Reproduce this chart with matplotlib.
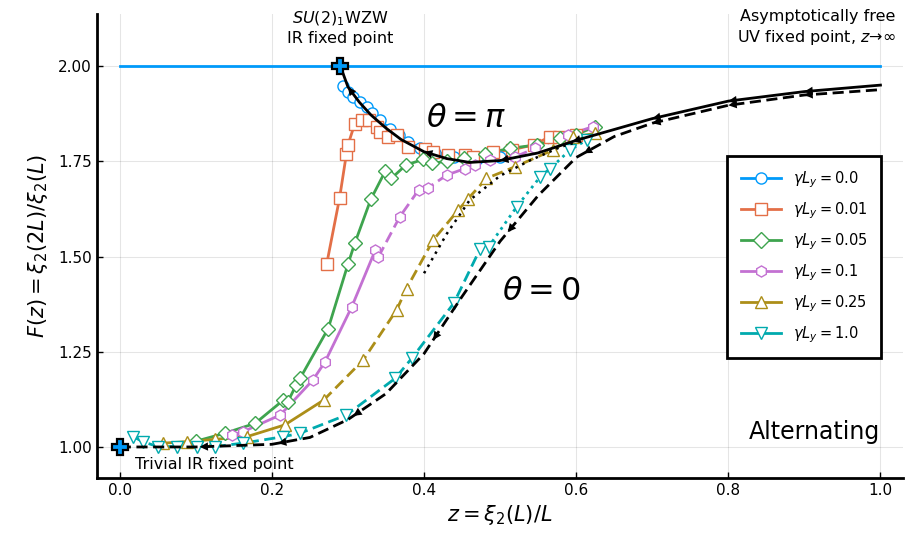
import numpy as np
import matplotlib
matplotlib.use("Agg")
import matplotlib.pyplot as plt
from matplotlib.lines import Line2D

# Julia default palette
colors = ['#009AFA', '#E36F47', '#3EA44E', '#C371D2', '#AC8E18', '#00AAAE']
labels = [r'$\gamma L_y = 0.0$', r'$\gamma L_y = 0.01$', r'$\gamma L_y = 0.05$',
          r'$\gamma L_y = 0.1$', r'$\gamma L_y = 0.25$', r'$\gamma L_y = 1.0$']
markers = ['o', 's', 'D', 'h', '^', 'v']

# data points
z_g0 = [0.294, 0.300, 0.307, 0.316, 0.325, 0.331, 0.342, 0.355, 0.367, 0.379, 0.395, 0.415, 0.44, 0.47, 0.50]
F_g0 = [1.948, 1.933, 1.919, 1.906, 1.893, 1.876, 1.858, 1.836, 1.818, 1.801, 1.785, 1.772, 1.762, 1.757, 1.76]

z_g001 = [0.272, 0.289, 0.298, 0.300, 0.309, 0.318, 0.327, 0.338, 0.342, 0.353, 0.364, 0.379,
          0.401, 0.412, 0.432, 0.454, 0.465, 0.491, 0.515, 0.544, 0.566, 0.577, 0.60]
F_g001 = [1.480, 1.654, 1.770, 1.793, 1.849, 1.858, 1.858, 1.841, 1.828, 1.815, 1.819, 1.788,
          1.781, 1.775, 1.766, 1.766, 1.762, 1.775, 1.78, 1.793, 1.815, 1.815, 1.82]

z_g005 = [0.10, 0.138, 0.178, 0.215, 0.221, 0.232, 0.237, 0.274, 0.300, 0.309, 0.330, 0.349, 0.357,
          0.376, 0.399, 0.411, 0.43, 0.452, 0.48, 0.513, 0.548, 0.579, 0.60, 0.625]
F_g005 = [1.015, 1.036, 1.062, 1.123, 1.119, 1.163, 1.180, 1.311, 1.480, 1.535, 1.650, 1.724, 1.705,
          1.740, 1.755, 1.745, 1.75, 1.758, 1.77, 1.784, 1.793, 1.810, 1.82, 1.841]

z_g01 = [0.147, 0.162, 0.211, 0.254, 0.270, 0.305, 0.336, 0.340, 0.368, 0.393, 0.405, 0.430,
         0.454, 0.467, 0.487, 0.520, 0.546, 0.589, 0.622]
F_g01 = [1.031, 1.040, 1.084, 1.176, 1.224, 1.368, 1.517, 1.499, 1.604, 1.675, 1.680, 1.714,
         1.731, 1.740, 1.753, 1.762, 1.784, 1.819, 1.841]

z_g025 = [0.057, 0.088, 0.125, 0.167, 0.217, 0.268, 0.320, 0.364, 0.377, 0.412, 0.445, 0.458,
          0.482, 0.520, 0.570, 0.596, 0.625]
F_g025 = [1.010, 1.014, 1.02, 1.027, 1.058, 1.123, 1.228, 1.360, 1.416, 1.543, 1.622, 1.652,
          1.705, 1.736, 1.780, 1.814, 1.823]

z_g1 = [0.018, 0.030, 0.050, 0.075, 0.101, 0.125, 0.162, 0.215, 0.237, 0.298, 0.362, 0.384,
        0.439, 0.474, 0.485, 0.522, 0.553, 0.566, 0.592, 0.614]
F_g1 = [1.027, 1.014, 1.001, 1.001, 1.001, 1.001, 1.01, 1.027, 1.036, 1.084, 1.18, 1.233,
        1.377, 1.521, 1.526, 1.631, 1.710, 1.731, 1.78, 1.806]

series_z = [z_g0, z_g001, z_g005, z_g01, z_g025, z_g1]
series_F = [F_g0, F_g001, F_g005, F_g01, F_g025, F_g1]
# index where the line style changes, and the two styles
split = [None, None, None, 7, 5, 13]
styles = [('-', '-'), ('-', '-'), ('-', '-'), ('-', (0, (4, 2))), ('-', (0, (4, 2))), ((0, (4, 2)), ':')]

# flow curves
pi_z = [0.29, 0.30, 0.315, 0.33, 0.35, 0.37, 0.40, 0.43, 0.46, 0.50, 0.55, 0.60, 0.70, 0.80, 0.90, 1.0]
pi_F = [2.0, 1.945, 1.905, 1.872, 1.837, 1.807, 1.775, 1.757, 1.747, 1.752, 1.772, 1.805, 1.862, 1.908, 1.933, 1.950]
zero_z = [0.0, 0.1, 0.2, 0.25, 0.30, 0.35, 0.40, 0.45, 0.50, 0.55, 0.60, 0.65, 0.70, 0.80, 0.90, 1.0]
zero_F = [1.0, 1.0, 1.007, 1.025, 1.072, 1.14, 1.245, 1.395, 1.54, 1.66, 1.76, 1.815, 1.85, 1.897, 1.924, 1.938]
dot_z = [0.40, 0.43, 0.46, 0.50, 0.54, 0.58, 0.60]
dot_F = [1.456, 1.56, 1.648, 1.712, 1.753, 1.788, 1.80]

pi_arrows = [0.30, 0.40, 0.50, 0.595, 0.70, 0.80, 0.90]
zero_arrows = [0.105, 0.208, 0.307, 0.412, 0.51, 0.61, 0.70, 0.80, 0.90]

fig = plt.figure(figsize=(9.06, 5.41), dpi=100)
ax = fig.add_axes([0.107, 0.1165, 0.89, 0.8575])

# WZW fixed point line
ax.plot([0, 1], [2, 2], color=colors[0], lw=2, zorder=2)

for i in range(6):
    zz, FF = series_z[i], series_F[i]
    s = split[i]
    kw = dict(color=colors[i], lw=2, zorder=3)
    if s is None:
        ax.plot(zz, FF, ls=styles[i][0], **kw)
    else:
        ax.plot(zz[:s + 1], FF[:s + 1], ls=styles[i][0], **kw)
        ax.plot(zz[s:], FF[s:], ls=styles[i][1], **kw)
    ax.plot(zz, FF, ls='none', marker=markers[i], ms=8 if markers[i] != 'D' else 7.2,
            mfc='white', mec=colors[i], mew=1.0, zorder=4)

ax.plot(pi_z, pi_F, color='black', lw=2, zorder=5)
ax.plot(zero_z, zero_F, color='black', lw=2, ls=(0, (4, 2)), zorder=5)
ax.plot(dot_z, dot_F, color='black', lw=1.8, ls=(0, (1, 2)), zorder=5)


def arrows(cz, cF, where):
    for z0 in where:
        tip = (z0, np.interp(z0, cz, cF))
        tail = (z0 + 0.01, np.interp(z0 + 0.01, cz, cF))
        ax.annotate('', xy=tip, xytext=tail,
                    arrowprops=dict(arrowstyle='-|>', color='black', lw=0,
                                    mutation_scale=15, shrinkA=0, shrinkB=0),
                    zorder=6)


arrows(pi_z, pi_F, pi_arrows)
arrows(zero_z, zero_F, zero_arrows)

# fixed points
ax.plot([0.29, 0.0], [2.0, 1.0], ls='none', marker='P', ms=12, mfc=colors[0],
        mec='black', mew=1.6, zorder=7)

ax.text(0.29, 2.10, r'$SU(2)_1$WZW' + '\nIR fixed point', ha='center', va='center',
        fontsize=11.5, linespacing=1.3)
ax.text(1.02, 2.10, 'Asymptotically free\nUV fixed point, $z$→∞', ha='right', va='center',
        fontsize=11.5, linespacing=1.3)
ax.text(0.02, 0.953, 'Trivial IR fixed point', ha='left', va='center', fontsize=11.5)
ax.text(1.0, 1.04, 'Alternating', ha='right', va='center', fontsize=17)
ax.text(0.455, 1.862, r'$\theta = \pi$', ha='center', va='center', fontsize=23)
ax.text(0.555, 1.407, r'$\theta = 0$', ha='center', va='center', fontsize=23)

handles = [Line2D([], [], color=colors[i], lw=2, marker=markers[i], ms=8, mfc='white',
                  mec=colors[i], mew=1.0) for i in range(6)]
leg = ax.legend(handles, labels, loc='center right', bbox_to_anchor=(0.981, 0.476),
                fontsize=10.5, frameon=True, fancybox=False, framealpha=1,
                handlelength=2.8, labelspacing=0.72, borderpad=0.9)
leg.get_frame().set_edgecolor('black')
leg.get_frame().set_linewidth(2)
leg.set_zorder(10)

ax.set_xlim(-0.03, 1.03)
ax.set_ylim(0.9186, 2.1365)
ax.set_xticks([0.0, 0.2, 0.4, 0.6, 0.8, 1.0])
ax.set_xticklabels(['0.0', '0.2', '0.4', '0.6', '0.8', '1.0'])
ax.set_yticks([1.0, 1.25, 1.5, 1.75, 2.0])
ax.set_yticklabels(['1.00', '1.25', '1.50', '1.75', '2.00'])
ax.tick_params(direction='in', length=4, width=1, labelsize=11)
ax.grid(True, color='black', alpha=0.1, lw=0.8)
ax.set_axisbelow(True)
for sp in ['top', 'right']:
    ax.spines[sp].set_visible(False)
for sp in ['left', 'bottom']:
    ax.spines[sp].set_linewidth(2)

ax.set_xlabel(r'$z = \xi_2(L)/L$', fontsize=15, labelpad=4)
ax.set_ylabel(r'$F(z) = \xi_2(2L)/\xi_2(L)$', fontsize=15, labelpad=6)

fig.savefig('out.png', dpi=100)
